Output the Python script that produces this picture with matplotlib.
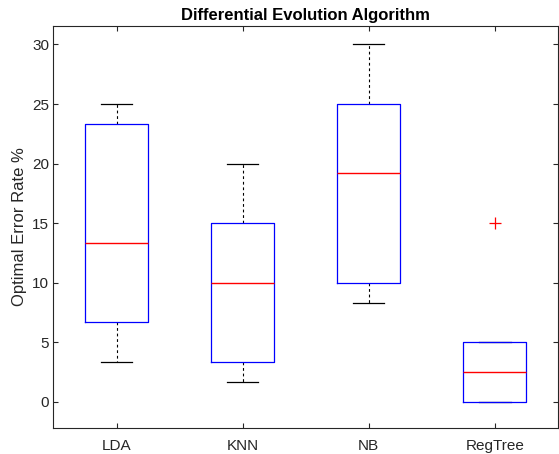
import matplotlib.pyplot as plt

# values (percent)
categories = ['LDA', 'KNN', 'NB', 'RegTree']
whisker_low = [3.33, 1.67, 8.33, 0.0]
q1 = [6.67, 3.33, 10.0, 0.0]
medians = [13.33, 10.0, 19.17, 2.5]
q3 = [23.33, 15.0, 25.0, 5.0]
whisker_high = [25.0, 20.0, 30.0, 5.0]
outliers = [[], [], [], [15.0]]

plt.rcParams['font.family'] = ['Liberation Sans', 'DejaVu Sans']

fig = plt.figure(figsize=(5.59, 4.54), dpi=100)
ax = fig.add_axes([0.0957, 0.0573, 0.9023, 0.8854])

stats = []
for i, name in enumerate(categories):
    stats.append({
        'label': name,
        'whislo': whisker_low[i],
        'q1': q1[i],
        'med': medians[i],
        'q3': q3[i],
        'whishi': whisker_high[i],
        'fliers': outliers[i],
    })

ax.bxp(stats, positions=range(1, len(categories) + 1), widths=0.5,
       showfliers=True,
       boxprops=dict(color='blue', linewidth=0.9, zorder=3),
       medianprops=dict(color='#ff0000', linewidth=1.0, zorder=4),
       whiskerprops=dict(color='black', linewidth=0.8, linestyle=(0, (2.5, 2.5)), zorder=2),
       capprops=dict(color='black', linewidth=0.9, zorder=2),
       capwidths=0.25,
       flierprops=dict(marker='+', markeredgecolor='#ff0000', markersize=8,
                       markeredgewidth=0.9, linestyle='none'))

ax.set_xlim(0.5, 4.5)
ax.set_ylim(-2.2, 31.55)
ax.set_yticks([0, 5, 10, 15, 20, 25, 30])
ax.set_xticks(range(1, len(categories) + 1))
ax.set_xticklabels(categories)

ax.tick_params(direction='in', length=3.5, width=0.8, top=True, right=True,
               labelsize=11, colors='0.15')
ax.tick_params(axis='x', pad=8)
ax.tick_params(axis='y', pad=3)
for s in ax.spines.values():
    s.set_color('0.15')
    s.set_linewidth(0.8)

ax.set_ylabel('Optimal Error Rate %', fontsize=12, color='0.15', labelpad=4)
ax.set_title('Differential Evolution Algorithm', fontsize=12, fontweight='bold', pad=4)

fig.savefig('out.png', dpi=100)
